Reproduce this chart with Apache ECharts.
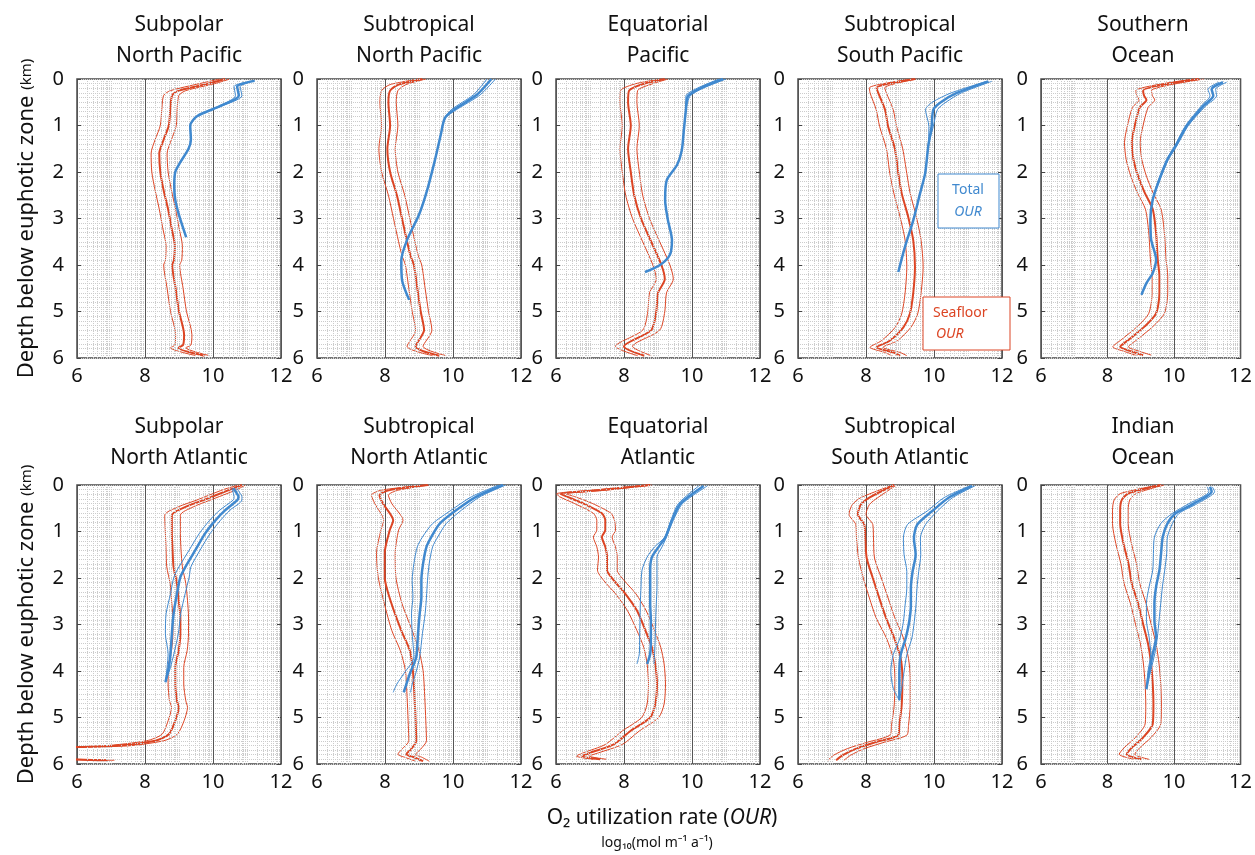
<!DOCTYPE html>
<html><head><meta charset="utf-8">
<script src="https://cdn.jsdelivr.net/npm/echarts@6/dist/echarts.min.js"></script>
<style>html,body{margin:0;padding:0;background:#fff}#c{width:1255px;height:855px}</style>
</head><body><div id="c"></div><script>
// ---------- DATA ----------
const TITLES = ['Subpolar\nNorth Pacific','Subtropical\nNorth Pacific','Equatorial\nPacific','Subtropical\nSouth Pacific','Southern\nOcean',
  'Subpolar\nNorth Atlantic','Subtropical\nNorth Atlantic','Equatorial\nAtlantic','Subtropical\nSouth Atlantic','Indian\nOcean'];
const X_TICKS = [6, 8, 10, 12];
const Y_TICKS = [0, 1, 2, 3, 4, 5, 6];

// 1 Subpolar North Pacific
const P1_RED_D   = [0, 0.1, 0.25, 0.35, 0.6, 1.0, 1.3, 1.6, 2.0, 2.4, 2.8, 3.2, 3.6, 3.9, 4.0, 4.5, 5.0, 5.5, 5.72, 5.78, 5.95];
const P1_RED_MID = [10.35, 9.85, 9.0, 8.8, 8.75, 8.7, 8.55, 8.42, 8.45, 8.55, 8.68, 8.78, 8.88, 8.85, 8.8, 8.9, 9.0, 9.15, 9.12, 8.98, 9.75];
const P1_RED_LO  = [10.2, 9.6, 8.75, 8.55, 8.5, 8.45, 8.3, 8.18, 8.2, 8.3, 8.42, 8.52, 8.62, 8.6, 8.55, 8.65, 8.75, 8.9, 8.88, 8.75, 9.5];
const P1_RED_HI  = [10.5, 10.05, 9.2, 9.0, 8.95, 8.92, 8.78, 8.65, 8.68, 8.78, 8.9, 9.0, 9.1, 9.08, 9.02, 9.12, 9.22, 9.38, 9.35, 9.2, 9.9];
const P1_BLUE_D   = [0.04, 0.16, 0.36, 0.58, 0.8, 1.0, 1.3, 1.5, 1.8, 2.0, 2.3, 2.6, 2.95, 3.4];
const P1_BLUE_MID = [11.22, 10.71, 10.76, 10.22, 9.53, 9.33, 9.35, 9.28, 9.03, 8.89, 8.86, 8.89, 9.01, 9.21];
const P1_BLUE_LO  = [11.22, 10.62, 10.66, 10.18, 9.53, 9.33, 9.35, 9.28, 9.03, 8.89, 8.86, 8.89, 9.01, 9.21];
const P1_BLUE_HI  = [11.22, 10.8, 10.85, 10.26, 9.53, 9.33, 9.35, 9.28, 9.03, 8.89, 8.86, 8.89, 9.01, 9.21];

// 2 Subtropical North Pacific
const P2_RED_D   = [0, 0.12, 0.25, 0.5, 1.0, 1.5, 2.0, 2.5, 3.0, 3.5, 3.8, 4.0, 4.5, 5.0, 5.4, 5.75, 5.95];
const P2_RED_MID = [9.1, 8.4, 8.15, 8.1, 8.15, 8.07, 8.15, 8.35, 8.5, 8.65, 8.75, 8.85, 8.95, 9.05, 9.15, 8.9, 9.6];
const P2_RED_LO  = [9.0, 8.15, 7.9, 7.85, 7.9, 7.82, 7.9, 8.1, 8.25, 8.4, 8.5, 8.6, 8.7, 8.8, 8.9, 8.65, 9.4];
const P2_RED_HI  = [9.2, 8.62, 8.38, 8.33, 8.38, 8.3, 8.38, 8.58, 8.73, 8.88, 8.98, 9.08, 9.18, 9.28, 9.38, 9.12, 9.8];
const P2_BLUE_D   = [0, 0.34, 0.66, 0.84, 1.2, 1.74, 2.39, 2.92, 3.46, 3.9, 4.32, 4.75];
const P2_BLUE_MID = [11.13, 10.7, 10.03, 9.76, 9.64, 9.47, 9.24, 9.0, 8.65, 8.48, 8.5, 8.71];
const P2_BLUE_LO  = [11.0, 10.6, 9.95, 9.76, 9.64, 9.47, 9.24, 9.0, 8.65, 8.48, 8.5, 8.71];
const P2_BLUE_HI  = [11.25, 10.8, 10.1, 9.76, 9.64, 9.47, 9.24, 9.0, 8.65, 8.48, 8.5, 8.71];

// 3 Equatorial Pacific
const P3_RED_D   = [0, 0.1, 0.25, 0.5, 1.0, 1.5, 2.0, 2.5, 3.0, 3.5, 4.0, 4.3, 4.6, 5.0, 5.4, 5.75, 5.95];
const P3_RED_MID = [9.2, 8.6, 8.15, 8.12, 8.2, 8.12, 8.2, 8.3, 8.5, 8.8, 9.1, 9.2, 9.0, 8.95, 8.8, 8.0, 8.6];
const P3_RED_LO  = [9.1, 8.35, 7.9, 7.88, 7.95, 7.88, 7.95, 8.05, 8.25, 8.55, 8.85, 8.95, 8.75, 8.7, 8.55, 7.75, 8.4];
const P3_RED_HI  = [9.3, 8.85, 8.4, 8.38, 8.45, 8.38, 8.45, 8.55, 8.75, 9.05, 9.35, 9.45, 9.25, 9.2, 9.05, 8.25, 8.8];
const P3_BLUE_D   = [0, 0.2, 0.37, 0.67, 1.1, 1.53, 1.85, 2.17, 2.6, 3.03, 3.46, 3.78, 4.0, 4.15];
const P3_BLUE_MID = [10.91, 10.24, 9.88, 9.82, 9.76, 9.7, 9.56, 9.26, 9.21, 9.29, 9.41, 9.35, 9.06, 8.62];
const P3_BLUE_LO  = [10.8, 10.15, 9.82, 9.82, 9.76, 9.7, 9.56, 9.26, 9.21, 9.29, 9.41, 9.35, 9.06, 8.62];
const P3_BLUE_HI  = [11.0, 10.32, 9.94, 9.82, 9.76, 9.7, 9.56, 9.26, 9.21, 9.29, 9.41, 9.35, 9.06, 8.62];

// 4 Subtropical South Pacific
const P4_RED_D   = [0, 0.19, 0.3, 0.66, 1.02, 1.5, 2.03, 2.46, 2.96, 3.47, 4.04, 4.6, 5.05, 5.34, 5.63, 5.77, 5.88, 5.95];
const P4_RED_MID = [9.44, 8.31, 8.36, 8.56, 8.65, 8.85, 8.95, 9.05, 9.24, 9.39, 9.44, 9.39, 9.29, 9.1, 8.7, 8.31, 8.8, 9.0];
const P4_RED_LO  = [9.4, 8.1, 8.12, 8.3, 8.4, 8.6, 8.7, 8.82, 9.0, 9.15, 9.2, 9.15, 9.05, 8.86, 8.45, 8.12, 8.55, 8.75];
const P4_RED_HI  = [9.5, 8.55, 8.6, 8.8, 8.9, 9.08, 9.2, 9.3, 9.48, 9.62, 9.68, 9.62, 9.52, 9.32, 8.92, 8.5, 9.0, 9.2];
const P4_BLUE_D   = [0.05, 0.3, 0.5, 0.66, 1.02, 1.45, 2.03, 2.46, 3.04, 3.6, 4.15];
const P4_BLUE_MID = [11.6, 10.67, 10.2, 9.98, 9.93, 9.83, 9.74, 9.59, 9.39, 9.15, 8.95];
const P4_BLUE_LO  = [11.55, 10.5, 9.95, 9.75, 9.85, 9.83, 9.74, 9.59, 9.39, 9.15, 8.95];
const P4_BLUE_HI  = [11.7, 10.8, 10.35, 10.1, 9.98, 9.83, 9.74, 9.59, 9.39, 9.15, 8.95];

// 5 Southern Ocean
const P5_RED_D   = [0, 0.25, 0.36, 0.45, 0.61, 1.0, 1.37, 1.73, 2.09, 2.45, 2.8, 3.31, 3.88, 4.24, 4.6, 5.04, 5.32, 5.61, 5.76, 5.86, 5.94];
const P5_RED_MID = [10.74, 9.07, 9.1, 9.17, 8.97, 8.82, 8.73, 8.78, 8.92, 9.12, 9.36, 9.46, 9.51, 9.56, 9.56, 9.46, 9.12, 8.63, 8.38, 8.73, 9.07];
const P5_RED_LO  = [10.6, 8.85, 8.88, 8.95, 8.75, 8.6, 8.51, 8.56, 8.7, 8.9, 9.14, 9.24, 9.29, 9.34, 9.34, 9.24, 8.9, 8.41, 8.16, 8.51, 8.85];
const P5_RED_HI  = [10.9, 9.32, 9.35, 9.42, 9.22, 9.07, 8.98, 9.03, 9.17, 9.37, 9.61, 9.71, 9.76, 9.81, 9.81, 9.71, 9.37, 8.88, 8.63, 8.98, 9.32];
const P5_BLUE_D   = [0.07, 0.22, 0.36, 0.58, 1.0, 1.44, 1.73, 2.16, 2.59, 3.02, 3.45, 3.88, 4.17, 4.39, 4.64];
const P5_BLUE_MID = [11.47, 11.13, 11.18, 10.88, 10.39, 10.05, 9.8, 9.56, 9.36, 9.29, 9.31, 9.46, 9.36, 9.17, 9.02];
const P5_BLUE_LO  = [11.35, 11.02, 11.08, 10.82, 10.35, 10.02, 9.78, 9.54, 9.36, 9.29, 9.31, 9.46, 9.36, 9.17, 9.02];
const P5_BLUE_HI  = [11.58, 11.25, 11.28, 10.95, 10.43, 10.08, 9.83, 9.58, 9.36, 9.29, 9.31, 9.46, 9.36, 9.17, 9.02];

// 6 Subpolar North Atlantic
const P6_RED_D   = [0, 0.1, 0.33, 0.47, 0.65, 1.04, 1.4, 1.76, 2.12, 2.48, 2.84, 3.2, 3.56, 3.92, 4.28, 4.64, 4.78, 5.07, 5.36, 5.5, 5.61, 5.68, 5.84, 5.92];
const P6_RED_MID = [10.85, 10.5, 9.7, 9.19, 8.79, 8.79, 8.81, 8.84, 8.94, 8.99, 9.04, 9.04, 8.99, 8.89, 8.89, 8.94, 8.99, 8.89, 8.7, 8.3, 7.13, 5.0, 5.0, 6.9];
const P6_RED_LO  = [10.75, 10.3, 9.5, 8.98, 8.58, 8.6, 8.62, 8.64, 8.74, 8.78, 8.82, 8.82, 8.78, 8.68, 8.68, 8.72, 8.78, 8.68, 8.5, 8.05, 6.8, 5.0, 5.0, 6.6];
const P6_RED_HI  = [10.95, 10.7, 9.9, 9.42, 9.04, 9.04, 9.06, 9.1, 9.2, 9.25, 9.28, 9.28, 9.24, 9.14, 9.14, 9.2, 9.25, 9.15, 8.95, 8.55, 7.5, 5.0, 5.0, 7.1];
const P6_BLUE_D   = [0.07, 0.18, 0.25, 0.32, 0.54, 0.76, 1.04, 1.4, 1.76, 1.98, 2.34, 2.77, 3.2, 3.63, 3.92, 4.24];
const P6_BLUE_MID = [10.6, 10.7, 10.75, 10.72, 10.36, 10.07, 9.77, 9.48, 9.19, 9.04, 8.94, 8.84, 8.79, 8.75, 8.7, 8.6];
const P6_BLUE_LO  = [10.55, 10.6, 10.62, 10.6, 10.2, 9.9, 9.6, 9.3, 9.0, 8.85, 8.75, 8.62, 8.6, 8.68, 8.65, 8.6];
const P6_BLUE_HI  = [10.7, 10.8, 10.85, 10.85, 10.5, 10.22, 9.92, 9.62, 9.35, 9.3, 9.18, 9.05, 8.98, 8.85, 8.75, 8.6];

// 7 Subtropical North Atlantic
const P7_RED_D   = [0, 0.11, 0.22, 0.4, 0.76, 0.97, 1.47, 1.98, 2.55, 3.13, 3.56, 3.99, 4.57, 5.07, 5.5, 5.68, 5.79, 5.86, 5.94];
const P7_RED_MID = [9.26, 8.14, 7.84, 7.94, 8.24, 8.14, 7.99, 7.99, 8.19, 8.48, 8.73, 8.82, 8.87, 8.9, 8.92, 8.77, 8.63, 8.87, 9.12];
const P7_RED_LO  = [9.2, 7.9, 7.6, 7.7, 7.96, 7.88, 7.75, 7.8, 7.98, 8.2, 8.45, 8.6, 8.65, 8.68, 8.7, 8.5, 8.38, 8.6, 8.9];
const P7_RED_HI  = [9.3, 8.4, 8.1, 8.2, 8.53, 8.4, 8.3, 8.32, 8.5, 8.8, 9.0, 9.12, 9.17, 9.2, 9.22, 9.05, 8.9, 9.1, 9.3];
const P7_BLUE_D   = [0, 0.25, 0.54, 0.83, 1.12, 1.33, 1.69, 2.05, 2.41, 2.77, 3.2, 3.7, 4.06, 4.28, 4.46];
const P7_BLUE_MID = [11.47, 10.69, 10.1, 9.61, 9.36, 9.22, 9.12, 9.07, 9.07, 9.02, 8.97, 8.92, 8.73, 8.63, 8.55];
const P7_BLUE_LO  = [11.35, 10.55, 9.95, 9.4, 9.1, 8.95, 8.85, 8.8, 8.82, 8.78, 8.8, 8.85, 8.55, 8.35, 8.24];
const P7_BLUE_HI  = [11.55, 10.8, 10.25, 9.8, 9.55, 9.4, 9.3, 9.25, 9.22, 9.18, 9.1, 9.02, 8.9, 8.8, 8.75];

// 8 Equatorial Atlantic
const P8_RED_D   = [0, 0.11, 0.19, 0.25, 0.4, 0.61, 0.76, 0.97, 1.12, 1.33, 1.55, 1.83, 2.05, 2.34, 2.7, 3.13, 3.49, 3.85, 4.28, 4.71, 5.0, 5.29, 5.58, 5.76, 5.83, 5.9];
const P8_RED_MID = [8.77, 7.3, 6.13, 6.32, 6.81, 7.35, 7.45, 7.45, 7.35, 7.45, 7.5, 7.5, 7.7, 8.04, 8.38, 8.63, 8.82, 8.92, 8.97, 8.92, 8.77, 8.19, 7.7, 7.0, 6.77, 7.3];
const P8_RED_LO  = [8.72, 7.1, 6.02, 6.1, 6.55, 7.1, 7.2, 7.2, 7.1, 7.2, 7.25, 7.22, 7.4, 7.75, 8.1, 8.38, 8.58, 8.68, 8.72, 8.68, 8.52, 7.95, 7.45, 6.8, 6.6, 7.1];
const P8_RED_HI  = [8.82, 7.5, 6.3, 6.55, 7.08, 7.62, 7.72, 7.75, 7.65, 7.75, 7.8, 7.8, 8.0, 8.35, 8.65, 8.9, 9.08, 9.18, 9.22, 9.18, 9.02, 8.45, 7.95, 7.25, 6.98, 7.5];
const P8_BLUE_D   = [0.02, 0.4, 0.76, 1.12, 1.33, 1.55, 1.83, 2.19, 2.55, 2.91, 3.27, 3.63, 3.85];
const P8_BLUE_MID = [10.34, 9.66, 9.41, 9.22, 9.02, 8.82, 8.77, 8.77, 8.77, 8.79, 8.79, 8.77, 8.68];
const P8_BLUE_LO  = [10.2, 9.6, 9.38, 9.2, 8.9, 8.68, 8.53, 8.5, 8.48, 8.47, 8.46, 8.45, 8.38];
const P8_BLUE_HI  = [10.45, 9.72, 9.45, 9.25, 9.12, 8.97, 8.97, 8.97, 8.95, 8.93, 8.92, 8.9, 8.88];

// 9 Subtropical South Atlantic
const P9_RED_D   = [0, 0.27, 0.42, 0.63, 0.85, 1.14, 1.57, 2.0, 2.43, 2.86, 3.29, 3.73, 4.16, 4.73, 5.17, 5.38, 5.53, 5.67, 5.81, 5.92];
const P9_RED_MID = [8.83, 8.1, 7.85, 7.76, 7.95, 7.98, 8.02, 8.2, 8.39, 8.59, 8.83, 9.02, 9.07, 9.05, 8.98, 8.95, 8.29, 7.71, 7.32, 7.12];
const P9_RED_LO  = [8.8, 7.85, 7.6, 7.5, 7.7, 7.72, 7.78, 7.92, 8.1, 8.3, 8.6, 8.8, 8.85, 8.83, 8.75, 8.7, 8.05, 7.45, 7.05, 6.88];
const P9_RED_HI  = [8.9, 8.35, 8.1, 8.0, 8.2, 8.22, 8.25, 8.45, 8.65, 8.85, 9.1, 9.25, 9.3, 9.3, 9.25, 9.2, 8.55, 7.95, 7.55, 7.35];
const P9_BLUE_D   = [0.02, 0.27, 0.56, 0.85, 1.14, 1.5, 1.86, 2.22, 2.58, 2.94, 3.29, 3.65, 4.01, 4.37, 4.63];
const P9_BLUE_MID = [11.12, 10.44, 9.95, 9.51, 9.41, 9.46, 9.37, 9.32, 9.32, 9.27, 9.17, 9.02, 8.98, 8.98, 8.98];
const P9_BLUE_LO  = [11.05, 10.3, 9.8, 9.22, 9.1, 9.12, 9.2, 9.2, 9.15, 9.1, 9.0, 8.8, 8.73, 8.8, 8.98];
const P9_BLUE_HI  = [11.2, 10.55, 10.1, 9.75, 9.6, 9.61, 9.55, 9.5, 9.47, 9.42, 9.35, 9.2, 9.12, 9.05, 8.98];

// 10 Indian Ocean
const P10_RED_D   = [0, 0.18, 0.32, 0.54, 0.83, 1.26, 1.69, 2.12, 2.55, 2.99, 3.42, 3.85, 4.28, 4.71, 5.14, 5.43, 5.65, 5.79, 5.9];
const P10_RED_MID = [9.61, 8.63, 8.43, 8.38, 8.38, 8.48, 8.63, 8.73, 8.92, 9.07, 9.22, 9.31, 9.36, 9.38, 9.36, 9.07, 8.73, 8.58, 9.02];
const P10_RED_LO  = [9.55, 8.4, 8.2, 8.15, 8.15, 8.25, 8.4, 8.5, 8.69, 8.84, 8.99, 9.08, 9.13, 9.15, 9.13, 8.84, 8.5, 8.35, 8.8];
const P10_RED_HI  = [9.7, 8.87, 8.67, 8.62, 8.62, 8.72, 8.87, 8.97, 9.16, 9.31, 9.46, 9.55, 9.6, 9.62, 9.6, 9.31, 8.97, 8.82, 9.25];
const P10_BLUE_D   = [0.04, 0.14, 0.4, 0.61, 0.83, 1.12, 1.47, 1.83, 2.19, 2.55, 2.91, 3.27, 3.63, 3.99, 4.39];
const P10_BLUE_MID = [11.08, 11.13, 10.59, 10.05, 9.8, 9.66, 9.61, 9.56, 9.46, 9.41, 9.41, 9.46, 9.36, 9.26, 9.17];
const P10_BLUE_LO  = [11.0, 11.05, 10.45, 9.95, 9.6, 9.41, 9.38, 9.36, 9.25, 9.17, 9.17, 9.25, 9.3, 9.22, 9.17];
const P10_BLUE_HI  = [11.15, 11.22, 10.7, 10.15, 9.95, 9.8, 9.78, 9.72, 9.65, 9.6, 9.55, 9.5, 9.42, 9.3, 9.17];

const PANELS = [
  [P1_RED_D,P1_RED_MID,P1_RED_LO,P1_RED_HI,P1_BLUE_D,P1_BLUE_MID,P1_BLUE_LO,P1_BLUE_HI],
  [P2_RED_D,P2_RED_MID,P2_RED_LO,P2_RED_HI,P2_BLUE_D,P2_BLUE_MID,P2_BLUE_LO,P2_BLUE_HI],
  [P3_RED_D,P3_RED_MID,P3_RED_LO,P3_RED_HI,P3_BLUE_D,P3_BLUE_MID,P3_BLUE_LO,P3_BLUE_HI],
  [P4_RED_D,P4_RED_MID,P4_RED_LO,P4_RED_HI,P4_BLUE_D,P4_BLUE_MID,P4_BLUE_LO,P4_BLUE_HI],
  [P5_RED_D,P5_RED_MID,P5_RED_LO,P5_RED_HI,P5_BLUE_D,P5_BLUE_MID,P5_BLUE_LO,P5_BLUE_HI],
  [P6_RED_D,P6_RED_MID,P6_RED_LO,P6_RED_HI,P6_BLUE_D,P6_BLUE_MID,P6_BLUE_LO,P6_BLUE_HI],
  [P7_RED_D,P7_RED_MID,P7_RED_LO,P7_RED_HI,P7_BLUE_D,P7_BLUE_MID,P7_BLUE_LO,P7_BLUE_HI],
  [P8_RED_D,P8_RED_MID,P8_RED_LO,P8_RED_HI,P8_BLUE_D,P8_BLUE_MID,P8_BLUE_LO,P8_BLUE_HI],
  [P9_RED_D,P9_RED_MID,P9_RED_LO,P9_RED_HI,P9_BLUE_D,P9_BLUE_MID,P9_BLUE_LO,P9_BLUE_HI],
  [P10_RED_D,P10_RED_MID,P10_RED_LO,P10_RED_HI,P10_BLUE_D,P10_BLUE_MID,P10_BLUE_LO,P10_BLUE_HI]
];

// ---------- STYLE / LAYOUT ----------
const FONT = '"Noto Sans", "DejaVu Sans", sans-serif';
const RED = '#dc4524', BLUE = '#4089cf';
const LEFTS = [77, 317, 556, 798, 1041];
const TOPS = [79, 485];
const W = 204, H = 279;
const GRIDDOT = '#cccccc';

// minor log-decade grid positions (visual gridlines only)
const MINOR_X = [];
for (let n = 6; n < 12; n++) {
  for (let k = 2; k <= 10; k++) {
    const v = n + Math.log10(k);
    if (Math.abs(v - 8) > 1e-9 && Math.abs(v - 10) > 1e-9 && v < 11.999) MINOR_X.push(v);
  }
}

const zip = (d, v) => v.map((x, i) => [x, d[i]]);
const grids = [], xAxes = [], yAxes = [], series = [], graphics = [];

PANELS.forEach((p, i) => {
  const row = Math.floor(i / 5), col = i % 5;
  grids.push({ left: LEFTS[col], top: TOPS[row], width: W, height: H, show: true,
    borderColor: '#4a4a4a', borderWidth: 1.5, backgroundColor: 'transparent' });
  xAxes.push({ gridIndex: i, type: 'value', min: X_TICKS[0], max: X_TICKS[X_TICKS.length - 1], interval: 2,
    axisLine: { show: false }, axisTick: { show: false },
    axisLabel: { fontSize: 20, color: '#111', fontFamily: FONT, margin: 8 },
    splitLine: { show: true, lineStyle: { color: '#555', width: 1 } } });
  yAxes.push({ gridIndex: i, type: 'value', inverse: true, min: 0, max: 6, interval: 1,
    axisLine: { show: false }, axisTick: { show: true, inside: true, length: 4, lineStyle: { color: '#444' } },
    axisLabel: { fontSize: 20, color: '#111', fontFamily: FONT, margin: 13 },
    splitLine: { show: true, lineStyle: { color: GRIDDOT, type: 'dotted', width: 1 } },
    minorTick: { show: false, splitNumber: 10 },
    minorSplitLine: { show: true, lineStyle: { color: GRIDDOT, type: 'dotted', width: 1 } } });
  yAxes.push({ gridIndex: i, type: 'value', inverse: true, min: 0, max: 6, interval: 1, position: 'right',
    axisLine: { show: false }, axisTick: { show: true, inside: true, length: 4, lineStyle: { color: '#444' } },
    axisLabel: { show: false }, splitLine: { show: false } });

  const yi = 2 * i;
  // vertical minor gridlines
  series.push({ type: 'line', xAxisIndex: i, yAxisIndex: yi, data: [], silent: true, z: 1,
    markLine: { silent: true, symbol: 'none', label: { show: false }, animation: false,
      lineStyle: { color: GRIDDOT, type: 'dotted', width: 1 },
      data: MINOR_X.map(v => ({ xAxis: v })) } });
  const [rD, rM, rL, rH, bD, bM, bL, bH] = p;
  const line = (d, v, color, width, z) => ({ type: 'line', xAxisIndex: i, yAxisIndex: yi, data: zip(d, v),
    symbol: 'none', showSymbol: false, smooth: 0.25, clip: true, silent: true, z,
    lineStyle: { color, width } });
  series.push(line(rD, rL, RED, 1, 3), line(rD, rH, RED, 1, 3), line(rD, rM, RED, 2, 4));
  series.push(line(bD, bL, BLUE, 1, 5), line(bD, bH, BLUE, 1, 5), line(bD, bM, BLUE, 2.5, 6));

  graphics.push({ type: 'text', x: LEFTS[col] + W / 2, y: row === 0 ? 41 : 443, silent: true,
    style: { text: TITLES[i], fontSize: 21, fontFamily: FONT, fill: '#111', lineHeight: 31,
      textAlign: 'center', textVerticalAlign: 'middle' } });
});

// y axis names
[0, 1].forEach(r => {
  graphics.push({ type: 'text', x: 27, y: TOPS[r] + H / 2, rotation: Math.PI / 2, silent: true,
    style: { text: 'Depth below euphotic zone {s|(km)}', fontSize: 22, fontFamily: FONT, fill: '#111',
      textAlign: 'center', textVerticalAlign: 'middle',
      rich: { s: { fontSize: 15, fontFamily: FONT, fill: '#111' } } } });
});
// x axis title
graphics.push({ type: 'text', x: 662, y: 818, silent: true,
  style: { text: 'O₂ utilization rate ({i|OUR})', fontSize: 21, fontFamily: FONT, fill: '#111',
    textAlign: 'center', textVerticalAlign: 'middle',
    rich: { i: { fontSize: 21, fontStyle: 'italic', fontFamily: FONT, fill: '#111' } } } });
graphics.push({ type: 'text', x: 657, y: 843, silent: true,
  style: { text: 'log₁₀(mol m⁻¹ a⁻¹)', fontSize: 14, fontFamily: FONT, fill: '#111',
    textAlign: 'center', textVerticalAlign: 'middle' } });

// legend boxes (in Subtropical South Pacific panel)
graphics.push({ type: 'rect', z: 100, silent: true, shape: { x: 938, y: 174, width: 61, height: 54 },
  style: { fill: '#fff', stroke: BLUE, lineWidth: 1 } });
graphics.push({ type: 'text', z: 101, silent: true, x: 968, y: 201,
  style: { text: 'Total\n{i|OUR}', fontSize: 14, fontFamily: FONT, fill: BLUE, lineHeight: 22,
    textAlign: 'center', textVerticalAlign: 'middle',
    rich: { i: { fontSize: 14, fontStyle: 'italic', fontFamily: FONT, fill: BLUE } } } });
graphics.push({ type: 'rect', z: 100, silent: true, shape: { x: 923, y: 297, width: 87, height: 53 },
  style: { fill: '#fff', stroke: RED, lineWidth: 1 } });
graphics.push({ type: 'text', z: 101, silent: true, x: 933, y: 313,
  style: { text: 'Seafloor', fontSize: 14, fontFamily: FONT, fill: RED,
    textAlign: 'left', textVerticalAlign: 'middle' } });
graphics.push({ type: 'text', z: 101, silent: true, x: 936, y: 334,
  style: { text: 'OUR', fontSize: 14, fontStyle: 'italic', fontFamily: FONT, fill: RED,
    textAlign: 'left', textVerticalAlign: 'middle' } });

const chart = echarts.init(document.getElementById('c'), null, { renderer: 'canvas' });
chart.setOption({
  animation: false,
  backgroundColor: '#fff',
  grid: grids, xAxis: xAxes, yAxis: yAxes, series: series, graphic: graphics
});
</script></body></html>
